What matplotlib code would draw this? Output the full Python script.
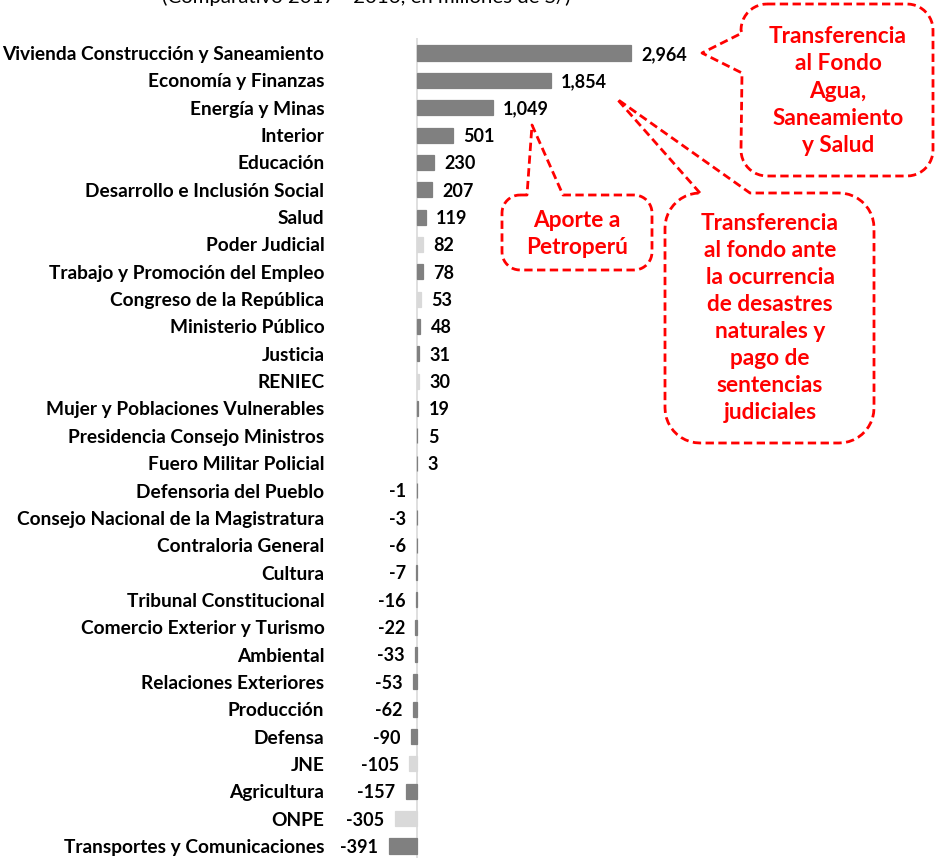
import matplotlib
matplotlib.use("Agg")
import matplotlib.pyplot as plt
from matplotlib.path import Path
from matplotlib.patches import PathPatch
from matplotlib.transforms import Affine2D
import numpy as np

categories = [
    "Vivienda Construcción y Saneamiento", "Economía y Finanzas", "Energía y Minas",
    "Interior", "Educación", "Desarrollo e Inclusión Social", "Salud", "Poder Judicial",
    "Trabajo y Promoción del Empleo", "Congreso de la República", "Ministerio Público",
    "Justicia", "RENIEC", "Mujer y Poblaciones Vulnerables", "Presidencia Consejo Ministros",
    "Fuero Militar Policial", "Defensoria del Pueblo", "Consejo Nacional de la Magistratura",
    "Contraloria General", "Cultura", "Tribunal Constitucional", "Comercio Exterior y Turismo",
    "Ambiental", "Relaciones Exteriores", "Producción", "Defensa", "JNE", "Agricultura",
    "ONPE", "Transportes y Comunicaciones",
]
values = [2964, 1854, 1049, 501, 230, 207, 119, 82, 78, 53, 48, 31, 30, 19, 5, 3,
          -1, -3, -6, -7, -16, -22, -33, -53, -62, -90, -105, -157, -305, -391]
light_set = ["Poder Judicial", "Congreso de la República", "RENIEC", "JNE", "ONPE"]

title = "(Comparativo 2017 - 2016, en millones de S/)"
callout_1 = "Transferencia\nal Fondo\nAgua,\nSaneamiento\ny Salud"
callout_2 = "Aporte a\nPetroperú"
callout_3 = "Transferencia\nal fondo ante\nla ocurrencia\nde desastres\nnaturales y\npago de\nsentencias\njudiciales"

W, H = 935, 858
FONT = "Lato"
fig = plt.figure(figsize=(W / 100, H / 100), dpi=100)

# axes placement (pixels): zero at x=417, 0.0722 px per unit
ax_left_px = 330
zero_px = 417
scale = 0.0722
x_lo = -(zero_px - ax_left_px) / scale
x_hi = (W - zero_px) / scale
ax = fig.add_axes([ax_left_px / W, 0, 1 - ax_left_px / W, 1])
row0, step = 53.0, 27.345
y_top = -row0 / step
y_bot = (H - row0) / step

ypos = np.arange(len(categories))
colors = ["#d9d9d9" if c in light_set else "#808080" for c in categories]
ax.barh(ypos, values, height=0.55, color=colors, edgecolor=colors, linewidth=0.9,
        clip_on=False, zorder=2)
ax.set_xlim(x_lo, x_hi)
ax.set_ylim(y_bot, y_top)
ax.vlines(0, -0.55, y_bot, color="#d9d9d9", lw=1.2, zorder=1)

for s in ax.spines.values():
    s.set_visible(False)
ax.set_xticks([])
ax.set_yticks(ypos)
ax.set_yticklabels(categories, fontfamily=FONT, fontweight="bold", fontsize=13.8)
ax.tick_params(axis="y", length=0, pad=4)

for y, v in zip(ypos, values):
    if v >= 0:
        ax.annotate(f"{v:,}", (v, y), xytext=(7.5, -1), textcoords="offset points",
                    ha="left", va="center", fontfamily=FONT, fontweight="bold",
                    fontsize=13, annotation_clip=False)
    else:
        ax.annotate(f"{v:,}", (v, y), xytext=(-7.5, -1), textcoords="offset points",
                    ha="right", va="center", fontfamily=FONT, fontweight="bold",
                    fontsize=13, annotation_clip=False)

# pixel transform (y from top)
pix = Affine2D().scale(1 / W, -1 / H).translate(0, 1) + fig.transFigure

fig.text(366, 3, title, transform=pix, ha="center", va="baseline",
         fontfamily=FONT, fontsize=14.7)


def arc(cx, cy, r, a0, a1, n=12):
    t = np.radians(np.linspace(a0, a1, n))
    return list(zip(cx + r * np.cos(t), cy + r * np.sin(t)))


def bubble(x0, y0, x1, y1, r, top=(), left=()):
    pts = [(x0 + r, y0)]
    for sp in top:
        pts += list(sp)
    pts += [(x1 - r, y0)]
    pts += arc(x1 - r, y0 + r, r, -90, 0)
    pts += arc(x1 - r, y1 - r, r, 0, 90)
    pts += arc(x0 + r, y1 - r, r, 90, 180)
    for sp in left:
        pts += list(sp)
    pts += arc(x0 + r, y0 + r, r, 180, 270)
    pts.append(pts[0])
    return Path(pts)


red = "#ff0000"
style = dict(facecolor="none", edgecolor=red, lw=2.0, linestyle=(0, (3, 1.6)),
             transform=pix, clip_on=False, joinstyle="round")
tstyle = dict(transform=pix, ha="center", va="center", color=red, fontfamily=FONT,
              fontweight="bold", fontsize=16.3, linespacing=1.36)

p1 = bubble(741, 4, 933, 176, 26, left=[((742, 73), (702, 53), (742, 33))])
fig.add_artist(PathPatch(p1, **style))
fig.text(838, 91, callout_1, **tstyle)

p2 = bubble(502, 195, 652, 270, 18, top=[((527, 195), (532, 125), (563, 195))])
fig.add_artist(PathPatch(p2, **style))
fig.text(577, 234, callout_2, **tstyle)

p3 = bubble(665, 193, 874, 443, 35, top=[((700, 193), (617, 99), (750, 193))])
fig.add_artist(PathPatch(p3, **style))
fig.text(770, 318, callout_3, **tstyle)

fig.savefig("out.png", dpi=100, facecolor="white")
